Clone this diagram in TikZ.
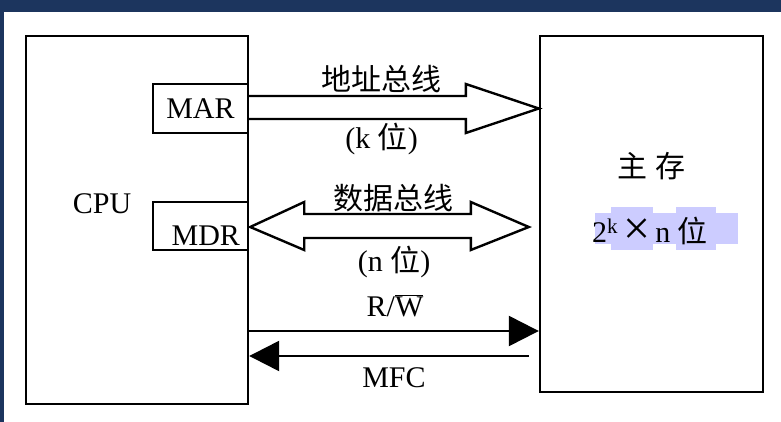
\documentclass[tikz,border=0pt]{standalone}
\usepackage{fontspec}
\setmainfont{Liberation Serif}
\newfontfamily\cjk{Noto Sans CJK SC}
\usetikzlibrary{calc,positioning,arrows.meta}
\definecolor{navy}{HTML}{1C355E}
\definecolor{marked}{HTML}{CCCCFF}
\tikzset{
  box/.style={draw,line width=2.4pt,inner sep=0pt,font=\fontsize{30}{36}\selectfont},
  lbl/.style={inner sep=0pt,font=\fontsize{30}{36}\selectfont},
  bus/.style={line width=2.4pt,line join=miter},
  sig/.style={line width=2.4pt,-{Triangle[length=30pt,width=30pt]}}
}
\begin{document}
\begin{tikzpicture}[x=1pt,y=-1pt]
\useasboundingbox (0,0) rectangle (781,422);
\fill[navy] (0,0) rectangle (781,12);
\fill[navy] (0,0) rectangle (4,422);
% boxes
\node[box,minimum width=222pt,minimum height=368pt] (cpu) at (137,220) {};
\node[lbl] at (102,204) {CPU};
\node[box,fill=white,minimum width=95pt,minimum height=49pt] (mar) at (200.5,108.5) {MAR};
\node[box,fill=white,minimum width=95pt,minimum height=48pt] (mdr) at (200.5,226) {};
\node[lbl,anchor=south east] at ($(mdr.south east)+(-9,-5)$) {MDR};
\node[box,minimum width=223pt,minimum height=356pt] (mem) at (651.5,214) {};
\node[lbl] (mname) at (651.5,166) {{\cjk 主}\ {\cjk 存}};
\fill[marked] (595,213) rectangle (738,244);
\fill[marked] (611,207) rectangle (653,250);
\fill[marked] (676,207) rectangle (716,250);
\node[lbl] (msize) at (650,231) {2\textsuperscript{k}\,\raisebox{-2.5pt}{\scalebox{1.6}{×}}\,n {\cjk 位}};
% address bus
\coordinate (atip) at (mem.west |- mar.east);
\draw[bus] ($(mar.east)+(0,-12.5)$) -- ($(atip)+(-73,-12.5)$) -- ($(atip)+(-73,-24.5)$)
  -- (atip) -- ($(atip)+(-73,24.5)$) -- ($(atip)+(-73,10.5)$) -- ($(mar.east)+(0,10.5)$);
\node[lbl] at (381.5,79) {\cjk 地址总线};
\node[lbl] at (381.5,139) {(k {\cjk 位})};
% data bus
\coordinate (dl) at ($(mdr.east)+(1,1)$);
\coordinate (dr) at ($(mem.west |- dl)+(-10,0)$);
\draw[bus] (dl) -- ($(dl)+(54,-25)$) -- ($(dl)+(54,-13)$) -- ($(dr)+(-58,-13)$) -- ($(dr)+(-58,-25)$)
  -- (dr) -- ($(dr)+(-58,23)$) -- ($(dr)+(-58,11)$) -- ($(dl)+(54,11)$) -- ($(dl)+(54,23)$) -- cycle;
\node[lbl] at (393,198) {\cjk 数据总线};
\node[lbl] at (394,262) {(n {\cjk 位})};
% control lines
\coordinate (rw) at (cpu.east |- 0,331);
\coordinate (mfc) at ($(mem.west |- 0,356)+(-10,0)$);
\draw[sig] (rw) -- (mem.west |- rw);
\draw[sig] (mfc) -- (cpu.east |- mfc);
\node[lbl] at (395,306) {R/$\overline{\mbox{W}}$};
\node[lbl] at (394,378) {MFC};
\end{tikzpicture}
\end{document}
